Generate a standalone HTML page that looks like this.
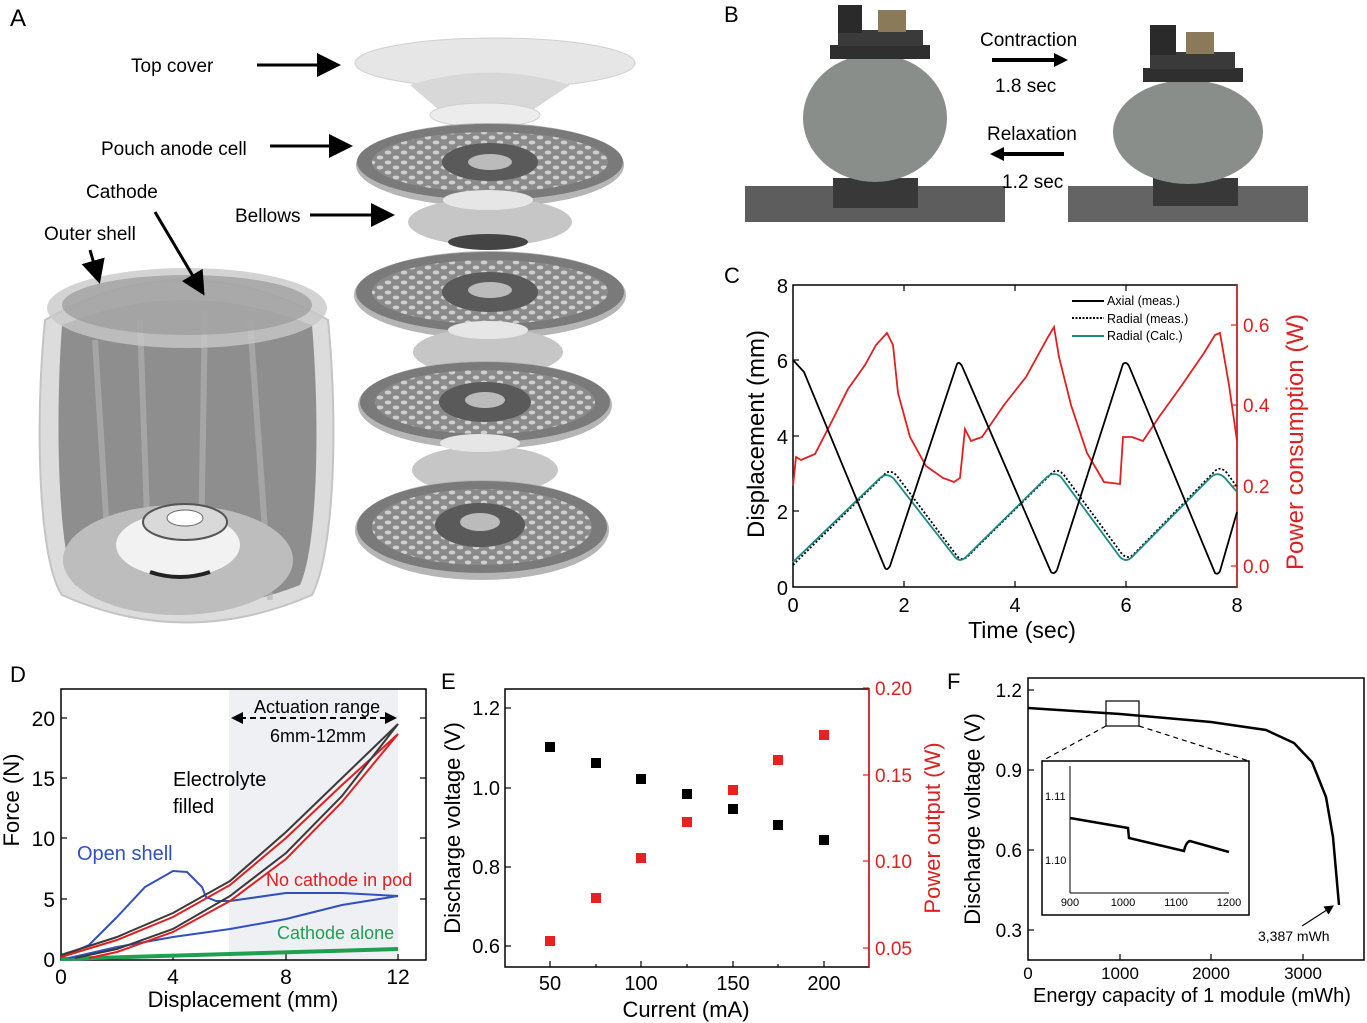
<!DOCTYPE html>
<html><head><meta charset="utf-8"><style>
html,body{margin:0;padding:0;background:#fff}
svg{display:block;font-family:"Liberation Sans",Arial,sans-serif}
</style></head><body>
<svg width="1367" height="1023" viewBox="0 0 1367 1023" xmlns="http://www.w3.org/2000/svg">
<defs>
<pattern id="hex" width="16" height="10" patternUnits="userSpaceOnUse">
<rect width="16" height="10" fill="#8a8a8a"/>
<ellipse cx="4" cy="2.5" rx="3.3" ry="2" fill="#cfcfcf"/>
<ellipse cx="12" cy="7.5" rx="3.3" ry="2" fill="#cfcfcf"/>
</pattern>
<marker id="ah" markerWidth="8" markerHeight="8" refX="7" refY="4" orient="auto"><path d="M0,0 L8,4 L0,8 Z" fill="#000"/></marker>
</defs>

<!-- Panel A -->
<text x="10" y="26" font-size="24">A</text>
<path d="M45,320 C35,420 38,560 62,595 Q185,650 312,595 C335,550 338,420 328,320 Q185,240 45,320 Z" fill="#dcdcdc" stroke="#c4c4c4" stroke-width="2"/>
<path d="M62,325 C55,420 58,550 75,585 Q185,630 300,585 C318,545 320,420 312,325 Q185,275 62,325 Z" fill="#8e8e8e"/>
<path d="M95,340 L110,580 M140,320 L150,600 M205,310 L200,610 M250,320 L270,600" stroke="#b5b5b5" stroke-width="6" opacity="0.6"/>
<ellipse cx="187" cy="308" rx="140" ry="40" fill="#c8c8c8" opacity="0.8"/>
<ellipse cx="187" cy="305" rx="125" ry="30" fill="#9a9a9a" opacity="0.7"/>
<ellipse cx="178" cy="560" rx="115" ry="55" fill="#bdbdbd"/>
<ellipse cx="178" cy="545" rx="62" ry="32" fill="#f2f2f2"/>
<ellipse cx="185" cy="522" rx="42" ry="18" fill="#d9d9d9" stroke="#555" stroke-width="2"/>
<ellipse cx="185" cy="518" rx="18" ry="8" fill="#fff" stroke="#666"/>
<path d="M150,572 Q180,582 210,572" stroke="#222" stroke-width="4" fill="none"/>
<ellipse cx="495" cy="63" rx="140" ry="25" fill="#e6e6e6" stroke="#d0d0d0"/>
<path d="M410,85 L445,115 Q485,130 525,115 L570,85 Q490,60 410,85Z" fill="#d8d8d8"/>
<ellipse cx="485" cy="115" rx="55" ry="12" fill="#ececec" stroke="#cfcfcf"/>
<g>
<ellipse cx="490" cy="165" rx="134" ry="42" fill="#b5b5b5"/>
<ellipse cx="490" cy="162" rx="133" ry="38" fill="#7a7a7a"/>
<ellipse cx="490" cy="162" rx="118" ry="30" fill="url(#hex)"/>
<ellipse cx="490" cy="162" rx="48" ry="19" fill="#5a5a5a"/>
<ellipse cx="490" cy="162" rx="22" ry="8" fill="#bbb"/>
</g>
<g>
<ellipse cx="490" cy="222" rx="82" ry="24" fill="#c6c6c6"/>
<ellipse cx="488" cy="200" rx="45" ry="10" fill="#e6e6e6"/>
<ellipse cx="488" cy="242" rx="40" ry="8" fill="#444"/>
</g>
<g>
<ellipse cx="490" cy="295" rx="136" ry="44" fill="#b5b5b5"/>
<ellipse cx="490" cy="292" rx="134" ry="40" fill="#7a7a7a"/>
<ellipse cx="490" cy="292" rx="118" ry="32" fill="url(#hex)"/>
<ellipse cx="490" cy="292" rx="48" ry="20" fill="#5a5a5a"/>
<ellipse cx="490" cy="290" rx="22" ry="8" fill="#bbb"/>
</g>
<g>
<ellipse cx="488" cy="352" rx="75" ry="24" fill="#c6c6c6"/>
<ellipse cx="488" cy="330" rx="40" ry="9" fill="#e6e6e6"/>
<ellipse cx="488" cy="372" rx="36" ry="7" fill="#444"/>
</g>
<g>
<ellipse cx="485" cy="405" rx="127" ry="44" fill="#b5b5b5"/>
<ellipse cx="485" cy="402" rx="125" ry="40" fill="#7a7a7a"/>
<ellipse cx="485" cy="402" rx="110" ry="32" fill="url(#hex)"/>
<ellipse cx="485" cy="402" rx="46" ry="20" fill="#5a5a5a"/>
<ellipse cx="485" cy="400" rx="20" ry="8" fill="#bbb"/>
</g>
<g>
<ellipse cx="485" cy="470" rx="73" ry="24" fill="#c6c6c6"/>
<ellipse cx="480" cy="443" rx="40" ry="9" fill="#e6e6e6"/>
<ellipse cx="485" cy="490" rx="35" ry="7" fill="#444"/>
</g>
<g>
<ellipse cx="482" cy="530" rx="127" ry="50" fill="#b5b5b5"/>
<ellipse cx="482" cy="527" rx="125" ry="46" fill="#7a7a7a"/>
<ellipse cx="482" cy="527" rx="110" ry="38" fill="url(#hex)"/>
<ellipse cx="480" cy="525" rx="45" ry="22" fill="#5a5a5a"/>
<ellipse cx="480" cy="522" rx="20" ry="9" fill="#bbb"/>
</g>
<g font-size="19" fill="#000">
<text x="131" y="72">Top cover</text>
<text x="101" y="155">Pouch anode cell</text>
<text x="86" y="198">Cathode</text>
<text x="44" y="240">Outer shell</text>
<text x="235" y="222">Bellows</text>
</g>
<g stroke="#000" stroke-width="3" marker-end="url(#ah)">
<line x1="257" y1="65" x2="338" y2="65"/>
<line x1="270" y1="146" x2="350" y2="146"/>
<line x1="310" y1="215" x2="392" y2="215"/>
<line x1="155" y1="212" x2="203" y2="293"/>
<line x1="90" y1="250" x2="99" y2="281"/>
</g>

<!-- Panel B -->
<text x="724" y="22" font-size="22">B</text>
<rect x="745" y="186" width="260" height="36" fill="#5d5d5d"/>
<rect x="1068" y="186" width="240" height="36" fill="#646464"/>
<rect x="833" y="178" width="85" height="30" fill="#383838"/>
<ellipse cx="875" cy="118" rx="72" ry="64" fill="#8a8e8b"/>
<rect x="830" y="45" width="100" height="14" fill="#2f2f2f"/>
<rect x="838" y="30" width="85" height="16" fill="#3a3a3a"/>
<rect x="838" y="5" width="24" height="28" fill="#2a2a2a"/>
<rect x="878" y="10" width="28" height="22" fill="#8a7a5a"/>
<rect x="1153" y="178" width="85" height="28" fill="#383838"/>
<ellipse cx="1188" cy="132" rx="75" ry="52" fill="#8a8e8b"/>
<rect x="1143" y="68" width="100" height="14" fill="#2f2f2f"/>
<rect x="1150" y="52" width="85" height="17" fill="#3a3a3a"/>
<rect x="1150" y="25" width="26" height="30" fill="#2a2a2a"/>
<rect x="1186" y="32" width="28" height="22" fill="#8a7a5a"/>
<g font-size="19">
<text x="980" y="46">Contraction</text>
<text x="995" y="92">1.8 sec</text>
<text x="987" y="140">Relaxation</text>
<text x="1002" y="188">1.2 sec</text>
</g>
<g stroke="#000" stroke-width="4">
<line x1="992" y1="60" x2="1058" y2="60"/><path d="M1054,53 L1068,60 L1054,67Z" stroke="none" fill="#000"/>
<line x1="1064" y1="154" x2="1000" y2="154"/><path d="M1004,147 L990,154 L1004,161Z" stroke="none" fill="#000"/>
</g>

<!-- Panel C -->
<text x="724" y="283" font-size="22">C</text>
<rect x="793" y="285" width="444" height="302" fill="none" stroke="#000" stroke-width="1.5"/>
<line x1="1237" y1="285" x2="1237" y2="587" stroke="#e02020" stroke-width="1.5"/>
<g stroke="#000" stroke-width="1.2">
<line x1="793" y1="511" x2="799" y2="511"/><line x1="793" y1="436" x2="799" y2="436"/><line x1="793" y1="360" x2="799" y2="360"/>
<line x1="904" y1="587" x2="904" y2="581"/><line x1="1015" y1="587" x2="1015" y2="581"/><line x1="1126" y1="587" x2="1126" y2="581"/>
<line x1="904" y1="285" x2="904" y2="291"/><line x1="1015" y1="285" x2="1015" y2="291"/><line x1="1126" y1="285" x2="1126" y2="291"/>
</g>
<g stroke="#e02020" stroke-width="1.2">
<line x1="1237" y1="566" x2="1231" y2="566"/><line x1="1237" y1="486" x2="1231" y2="486"/><line x1="1237" y1="405" x2="1231" y2="405"/><line x1="1237" y1="325" x2="1231" y2="325"/>
</g>
<g font-size="20" text-anchor="end">
<text x="788" y="595">0</text><text x="788" y="519">2</text><text x="788" y="444">4</text><text x="788" y="368">6</text><text x="788" y="293">8</text>
</g>
<g font-size="20" text-anchor="middle">
<text x="793" y="612">0</text><text x="904" y="612">2</text><text x="1015" y="612">4</text><text x="1126" y="612">6</text><text x="1237" y="612">8</text>
</g>
<g font-size="19" fill="#e02020">
<text x="1243" y="573">0.0</text><text x="1243" y="493">0.2</text><text x="1243" y="412">0.4</text><text x="1243" y="332">0.6</text>
</g>
<text transform="translate(764,434) rotate(-90)" font-size="24" text-anchor="middle">Displacement (mm)</text>
<text transform="translate(1303,442) rotate(-90)" font-size="24" fill="#e02020" text-anchor="middle">Power consumption (W)</text>
<text x="1022" y="638" font-size="23" text-anchor="middle">Time (sec)</text>
<path d="M793,486 L796,457 L801,460 L815,454 L832,421 L848,389 L865,365 L876,345 L887,333 L893,345 L898,393 L910,437 L926,466 L943,478 L954,482 L960,478 L965,429 L971,441 L982,437 L1004,405 L1026,377 L1048,337 L1054,327 L1059,357 L1071,405 L1087,453 L1104,482 L1120,484 L1123,437 L1132,437 L1143,441 L1159,417 L1182,385 L1204,353 L1215,335 L1220,333 L1229,385 L1237,441" fill="none" stroke="#e02020" stroke-width="1.8"/>
<path d="M793,565 L884,475 Q890,468 897,476 L957,556 Q962,562 968,556 L1051,474 Q1057,467 1064,475 L1122,554 Q1128,560 1134,554 L1214,472 Q1220,465 1227,473 L1237,487" fill="none" stroke="#000" stroke-width="1.8" stroke-dasharray="2,2"/>
<path d="M793,562 L880,478 Q887,472 894,479 L955,557 Q960,563 966,557 L1047,477 Q1054,471 1061,477 L1120,557 Q1126,563 1132,557 L1211,477 Q1218,471 1225,478 L1237,492" fill="none" stroke="#1a8a86" stroke-width="1.8"/>
<path d="M793,360 L804,372 L885,568 Q887,571 890,566 L957,364 Q959,361 962,366 L1051,572 Q1054,575 1057,570 L1123,364 Q1126,361 1129,366 L1215,573 Q1218,575 1220,571 L1237,512" fill="none" stroke="#000" stroke-width="1.8"/>
<g font-size="12.5">
<line x1="1072" y1="301" x2="1104" y2="301" stroke="#000" stroke-width="2"/><text x="1107" y="305">Axial (meas.)</text>
<line x1="1072" y1="318" x2="1104" y2="318" stroke="#000" stroke-width="2" stroke-dasharray="2,1.5"/><text x="1107" y="323">Radial (meas.)</text>
<line x1="1072" y1="336" x2="1104" y2="336" stroke="#1a8a86" stroke-width="2"/><text x="1107" y="340">Radial (Calc.)</text>
</g>

<!-- Panel D -->
<text x="10" y="682" font-size="22">D</text>
<rect x="229" y="690" width="169" height="269" fill="#eef0f3"/>
<rect x="61" y="689" width="365" height="271" fill="none" stroke="#000" stroke-width="1.5"/>
<g stroke="#000" stroke-width="1.2">
<line x1="61" y1="899" x2="67" y2="899"/><line x1="61" y1="838" x2="67" y2="838"/><line x1="61" y1="778" x2="67" y2="778"/><line x1="61" y1="718" x2="67" y2="718"/>
<line x1="426" y1="899" x2="420" y2="899"/><line x1="426" y1="838" x2="420" y2="838"/><line x1="426" y1="778" x2="420" y2="778"/><line x1="426" y1="718" x2="420" y2="718"/>
<line x1="173" y1="960" x2="173" y2="954"/><line x1="286" y1="960" x2="286" y2="954"/><line x1="398" y1="960" x2="398" y2="954"/>
</g>
<g font-size="21" text-anchor="end">
<text x="55" y="967">0</text><text x="55" y="907">5</text><text x="55" y="846">10</text><text x="55" y="786">15</text><text x="55" y="726">20</text>
</g>
<g font-size="21" text-anchor="middle">
<text x="61" y="984">0</text><text x="173" y="984">4</text><text x="286" y="984">8</text><text x="398" y="984">12</text>
</g>
<text transform="translate(19,800) rotate(-90)" font-size="22" text-anchor="middle">Force (N)</text>
<text x="243" y="1007" font-size="22" text-anchor="middle">Displacement (mm)</text>
<path d="M61,959 L398,949" stroke="#1fa050" stroke-width="4" fill="none"/>
<path d="M61,957 L89,945 L117,917 L145,887 L173,871 L187,872 L202,887 L206,897 L216,901 L230,901 L286,893 L342,893 L398,896 L342,905 L286,919 L230,929 L173,937 L117,947 L69,958" fill="none" stroke="#3050c0" stroke-width="2"/>
<path d="M61,957 L117,940 L173,917 L230,885 L286,838 L342,785 L398,734 L342,802 L286,859 L230,901 L173,932 L117,952 L89,958" fill="none" stroke="#e02020" stroke-width="2"/>
<path d="M61,955 L117,937 L173,913 L230,881 L286,832 L342,778 L398,724 L342,796 L286,853 L230,896 L173,929 L117,949 L75,958" fill="none" stroke="#3a3a3a" stroke-width="2"/>
<line x1="240" y1="718" x2="388" y2="718" stroke="#000" stroke-width="2" stroke-dasharray="6,4"/>
<path d="M231,718 L243,712 L243,724Z M397,718 L385,712 L385,724Z" fill="#000"/>
<text x="254" y="713" font-size="18">Actuation range</text>
<text x="270" y="742" font-size="18">6mm-12mm</text>
<text x="173" y="786" font-size="20">Electrolyte</text>
<text x="173" y="813" font-size="20">filled</text>
<text x="77" y="860" font-size="20" fill="#3050c0">Open shell</text>
<text x="266" y="886" font-size="18" fill="#e02020">No cathode in pod</text>
<text x="277" y="939" font-size="18" fill="#1fa050">Cathode alone</text>

<!-- Panel E -->
<text x="441" y="689" font-size="22">E</text>
<rect x="505" y="689" width="364" height="278" fill="none" stroke="#000" stroke-width="1.5"/>
<line x1="869" y1="689" x2="869" y2="967" stroke="#e02020" stroke-width="1.5"/>
<g stroke="#000" stroke-width="1.2">
<line x1="505" y1="946" x2="511" y2="946"/><line x1="505" y1="867" x2="511" y2="867"/><line x1="505" y1="788" x2="511" y2="788"/><line x1="505" y1="708" x2="511" y2="708"/>
<line x1="550" y1="967" x2="550" y2="961"/><line x1="641" y1="967" x2="641" y2="961"/><line x1="733" y1="967" x2="733" y2="961"/><line x1="824" y1="967" x2="824" y2="961"/>
<line x1="596" y1="967" x2="596" y2="964"/><line x1="687" y1="967" x2="687" y2="964"/><line x1="778" y1="967" x2="778" y2="964"/>
</g>
<g stroke="#e02020" stroke-width="1.2">
<line x1="869" y1="948" x2="863" y2="948"/><line x1="869" y1="861" x2="863" y2="861"/><line x1="869" y1="775" x2="863" y2="775"/><line x1="869" y1="688" x2="863" y2="688"/>
</g>
<g font-size="20" text-anchor="end">
<text x="500" y="953">0.6</text><text x="500" y="874">0.8</text><text x="500" y="795">1.0</text><text x="500" y="715">1.2</text>
</g>
<g font-size="20" text-anchor="middle">
<text x="550" y="990">50</text><text x="641" y="990">100</text><text x="733" y="990">150</text><text x="824" y="990">200</text>
</g>
<g font-size="19" fill="#e02020">
<text x="875" y="955">0.05</text><text x="875" y="868">0.10</text><text x="875" y="782">0.15</text><text x="875" y="695">0.20</text>
</g>
<text transform="translate(460,828) rotate(-90)" font-size="22" text-anchor="middle">Discharge voltage (V)</text>
<text transform="translate(940,828) rotate(-90)" font-size="22" fill="#e02020" text-anchor="middle">Power output (W)</text>
<text x="686" y="1017" font-size="22" text-anchor="middle">Current (mA)</text>
<g fill="#000">
<rect x="545" y="742" width="10" height="10"/><rect x="591" y="758" width="10" height="10"/><rect x="636" y="774" width="10" height="10"/><rect x="682" y="789" width="10" height="10"/><rect x="728" y="804" width="10" height="10"/><rect x="773" y="820" width="10" height="10"/><rect x="819" y="835" width="10" height="10"/>
</g>
<g fill="#e82020">
<rect x="545" y="936" width="10" height="10"/><rect x="591" y="893" width="10" height="10"/><rect x="636" y="853" width="10" height="10"/><rect x="682" y="817" width="10" height="10"/><rect x="728" y="785" width="10" height="10"/><rect x="773" y="755" width="10" height="10"/><rect x="819" y="730" width="10" height="10"/>
</g>

<!-- Panel F -->
<text x="947" y="689" font-size="22">F</text>
<rect x="1028" y="678" width="336" height="282" fill="none" stroke="#000" stroke-width="1.5"/>
<g stroke="#000" stroke-width="1.2">
<line x1="1028" y1="690" x2="1034" y2="690"/><line x1="1028" y1="770" x2="1034" y2="770"/><line x1="1028" y1="850" x2="1034" y2="850"/><line x1="1028" y1="930" x2="1034" y2="930"/>
<line x1="1120" y1="960" x2="1120" y2="954"/><line x1="1211" y1="960" x2="1211" y2="954"/><line x1="1303" y1="960" x2="1303" y2="954"/>
</g>
<g font-size="19" text-anchor="end">
<text x="1022" y="697">1.2</text><text x="1022" y="777">0.9</text><text x="1022" y="857">0.6</text><text x="1022" y="937">0.3</text>
</g>
<g font-size="17" text-anchor="middle">
<text x="1028" y="979">0</text><text x="1120" y="979">1000</text><text x="1211" y="979">2000</text><text x="1303" y="979">3000</text>
</g>
<text transform="translate(980,819) rotate(-90)" font-size="22" text-anchor="middle">Discharge voltage (V)</text>
<text x="1192" y="1002" font-size="20" text-anchor="middle">Energy capacity of 1 module (mWh)</text>
<path d="M1028,708 L1120,714 L1211,722 L1266,730 L1294,743 L1312,762 L1326,797 L1333,837 L1339,905" fill="none" stroke="#000" stroke-width="2.5"/>
<rect x="1106" y="701" width="33" height="25" fill="none" stroke="#000" stroke-width="1.2"/>
<line x1="1106" y1="726" x2="1042" y2="761" stroke="#000" stroke-width="1.2" stroke-dasharray="5,4"/>
<line x1="1139" y1="726" x2="1249" y2="761" stroke="#000" stroke-width="1.2" stroke-dasharray="5,4"/>
<rect x="1042" y="761" width="207" height="154" fill="#fff" stroke="#000" stroke-width="1.5"/>
<line x1="1070" y1="766" x2="1070" y2="893" stroke="#000"/><line x1="1070" y1="893" x2="1229" y2="893" stroke="#000"/>
<g font-size="11">
<text x="1045" y="800">1.11</text><text x="1045" y="864">1.10</text>
<text x="1070" y="906" text-anchor="middle">900</text><text x="1123" y="906" text-anchor="middle">1000</text><text x="1176" y="906" text-anchor="middle">1100</text><text x="1229" y="906" text-anchor="middle">1200</text>
</g>
<path d="M1070,818 L1128,828 L1129,838 L1184,851 Q1186,842 1190,841 L1229,852" fill="none" stroke="#000" stroke-width="2.5"/>
<text x="1258" y="941" font-size="14">3,387 mWh</text>
<line x1="1302" y1="926" x2="1333" y2="906" stroke="#000" stroke-width="1.2" marker-end="url(#ah)"/>
</svg>
</body></html>
